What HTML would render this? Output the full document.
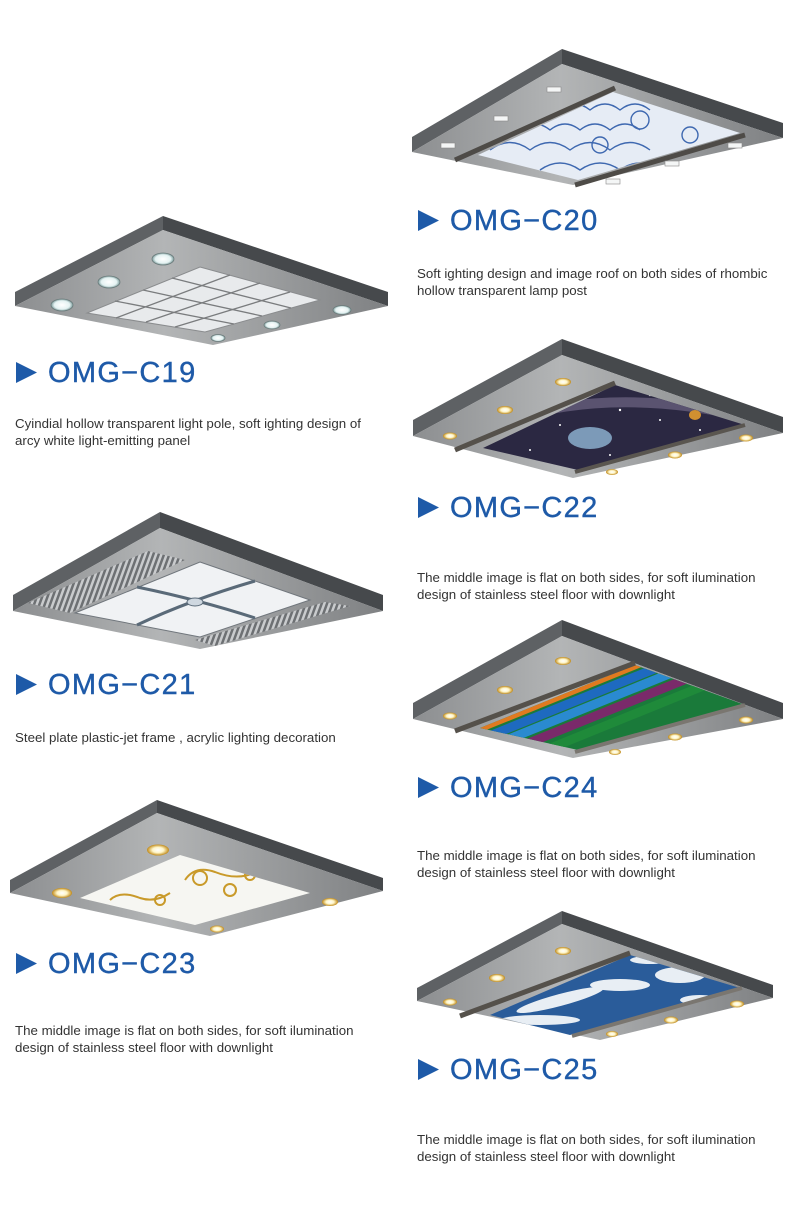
<!DOCTYPE html>
<html><head><meta charset="utf-8"><style>
html,body{margin:0;padding:0;background:#fff;}
body{width:800px;height:1209px;position:relative;overflow:hidden;font-family:"Liberation Sans",Arial,sans-serif;}
.t{position:absolute;font-size:29px;line-height:29px;color:#1e5aa8;letter-spacing:1.3px;white-space:nowrap;-webkit-text-stroke:0.4px #1e5aa8;}
.d{position:absolute;font-size:13.3px;line-height:17px;color:#333;white-space:nowrap;}
svg{position:absolute;left:0;top:0;}
</style></head><body>
<svg width="800" height="1209" viewBox="0 0 800 1209">
<defs>
<linearGradient id="fg" x1="0" y1="0" x2="1" y2="0">
<stop offset="0" stop-color="#8c8e90"/><stop offset="0.4" stop-color="#b3b5b6"/><stop offset="1" stop-color="#7f8183"/>
</linearGradient>
<radialGradient id="gl"><stop offset="0" stop-color="#fff"/><stop offset="0.5" stop-color="#fff6c8"/><stop offset="1" stop-color="#c08a1a"/></radialGradient>
<radialGradient id="wl"><stop offset="0" stop-color="#fff"/><stop offset="0.7" stop-color="#e4f2f2"/><stop offset="1" stop-color="#7a9a9a"/></radialGradient>
<pattern id="gr" width="5" height="5" patternUnits="userSpaceOnUse" patternTransform="rotate(20)">
<rect width="5" height="5" fill="#6d7073"/><rect width="2.5" height="5" fill="#c9cbcd"/></pattern>
<clipPath id="c22"><polygon points="615,385 745,425 578,470 483,448"/></clipPath>
<clipPath id="c24"><polygon points="635,665 745,705 578,750 480,728"/></clipPath>
<clipPath id="c25"><polygon points="630,955 740,988 570,1035 490,1015"/></clipPath>
<clipPath id="c20"><polygon points="613,92 740,133 578,180 478,155"/></clipPath>
<clipPath id="c23"><polygon points="180,855 310,893 195,925 80,898"/></clipPath>
</defs>

<!-- C19 -->
<polygon points="163,216 15,292 15,306 163,230" fill="#5e6164"/>
<polygon points="163,216 388,292 388,306 163,230" fill="#46494c"/>
<polygon points="163,230 388,306 213,345 15,306" fill="url(#fg)"/>
<polygon points="200,267 320,300 205,332 87,313" fill="#e8eaec" stroke="#8a8c8e"/>
<g stroke="#7a7c7e" stroke-width="1.3" fill="none">
<line x1="230" y1="275" x2="116" y2="318"/><line x1="260" y1="283" x2="146" y2="322"/><line x1="290" y1="292" x2="175" y2="327"/>
<line x1="172" y1="278" x2="291" y2="308"/><line x1="143" y1="290" x2="262" y2="316"/><line x1="115" y1="301" x2="234" y2="324"/>
</g>
<g fill="url(#wl)" stroke="#6b7b7b" stroke-width="0.8">
<ellipse cx="163" cy="259" rx="11" ry="6"/><ellipse cx="109" cy="282" rx="11" ry="6"/><ellipse cx="62" cy="305" rx="11" ry="6"/>
<ellipse cx="342" cy="310" rx="9" ry="4.5"/><ellipse cx="272" cy="325" rx="8" ry="4"/><ellipse cx="218" cy="338" rx="7" ry="3.5"/>
</g>

<!-- C20 -->
<polygon points="562,49 412,137 412,152 562,64" fill="#5e6164"/>
<polygon points="562,49 783,123 783,138 562,64" fill="#46494c"/>
<polygon points="562,64 783,138 573,185 412,152" fill="url(#fg)"/>
<polygon points="613,92 740,133 578,180 478,155" fill="#e6ecf5"/>
<g clip-path="url(#c20)" fill="none" stroke="#3e68b0" stroke-width="1.4">
<path d="M490 150 q20 -15 40 0 q20 -15 40 0 q20 -15 40 0 q20 -15 40 0"/>
<path d="M520 130 q15 -12 30 0 q15 -12 30 0 q15 -12 30 0 q15 -12 30 0"/>
<path d="M560 110 q15 -12 30 0 q15 -12 30 0 q15 -12 30 0"/>
<path d="M540 170 q20 -14 40 0 q20 -14 40 0 q20 -14 40 0"/>
<circle cx="640" cy="120" r="9"/><circle cx="600" cy="145" r="8"/><circle cx="690" cy="135" r="8"/>
</g>
<line x1="455" y1="160" x2="615" y2="88" stroke="#4e4b47" stroke-width="5"/>
<line x1="575" y1="185" x2="745" y2="135" stroke="#4e4b47" stroke-width="5"/>
<g fill="#f4f6f6" stroke="#888" stroke-width="0.6">
<rect x="547" y="87" width="14" height="5"/><rect x="494" y="116" width="14" height="5"/><rect x="441" y="143" width="14" height="5"/>
<rect x="728" y="143" width="14" height="5"/><rect x="665" y="161" width="14" height="5"/><rect x="606" y="179" width="14" height="5"/>
</g>

<!-- C21 -->
<polygon points="160,512 13,595 13,611 160,528" fill="#5e6164"/>
<polygon points="160,512 383,595 383,611 160,528" fill="#46494c"/>
<polygon points="160,528 383,611 200,649 13,611" fill="url(#fg)"/>
<polygon points="28,603 148,551 185,560 70,613" fill="url(#gr)"/>
<polygon points="195,640 325,602 350,606 215,646" fill="url(#gr)"/>
<polygon points="200,562 310,600 200,637 75,613" fill="#f0f2f4" stroke="#70767c"/>
<path d="M255 581 Q190 600 137 625 M137 587 Q200 600 255 618" stroke="#5a6a78" stroke-width="3" fill="none"/>
<ellipse cx="195" cy="602" rx="8" ry="4" fill="#cfd8e0" stroke="#5a6a78"/>

<!-- C22 -->
<polygon points="562,339 413,420 413,436 562,355" fill="#5e6164"/>
<polygon points="562,339 783,417 783,433 562,355" fill="#46494c"/>
<polygon points="562,355 783,433 573,478 413,436" fill="url(#fg)"/>
<polygon points="615,385 745,425 578,470 483,448" fill="#2b2842"/>
<g clip-path="url(#c22)">
<path d="M480 430 Q600 380 760 420" stroke="#5a5370" stroke-width="10" fill="none"/>
<ellipse cx="590" cy="438" rx="22" ry="11" fill="#7c9ab8"/>
<ellipse cx="695" cy="415" rx="6" ry="5" fill="#d09030"/>
<g fill="#fff"><circle cx="620" cy="410" r="1.2"/><circle cx="660" cy="420" r="1"/><circle cx="560" cy="425" r="1"/><circle cx="650" cy="395" r="1.2"/><circle cx="700" cy="430" r="1"/><circle cx="530" cy="450" r="1"/><circle cx="610" cy="455" r="1"/></g>
</g>
<line x1="455" y1="450" x2="615" y2="383" stroke="#55514b" stroke-width="5"/>
<line x1="575" y1="472" x2="745" y2="425" stroke="#5a5650" stroke-width="4"/>
<g fill="url(#gl)">
<ellipse cx="563" cy="382" rx="8" ry="4"/><ellipse cx="505" cy="410" rx="8" ry="4"/><ellipse cx="450" cy="436" rx="7" ry="3.5"/>
<ellipse cx="746" cy="438" rx="7" ry="3.5"/><ellipse cx="675" cy="455" rx="7" ry="3.5"/><ellipse cx="612" cy="472" rx="6" ry="3"/>
</g>

<!-- C23 -->
<polygon points="157,800 10,880 10,893 157,813" fill="#5e6164"/>
<polygon points="157,800 383,878 383,891 157,813" fill="#46494c"/>
<polygon points="157,813 383,891 210,936 10,893" fill="url(#fg)"/>
<polygon points="180,855 310,893 195,925 80,898" fill="#f6f6f2"/>
<g clip-path="url(#c23)" fill="none" stroke="#c99a2a" stroke-width="2">
<path d="M185 880 q10 -15 30 -8 q25 10 45 -2 q15 -8 10 10"/>
<path d="M110 900 q10 -10 30 -2 q15 5 30 -5"/>
<circle cx="200" cy="878" r="7"/><circle cx="230" cy="890" r="6"/><circle cx="160" cy="900" r="5"/><circle cx="250" cy="875" r="5"/>
</g>
<g fill="url(#gl)">
<ellipse cx="158" cy="850" rx="11" ry="5.5"/><ellipse cx="62" cy="893" rx="10" ry="5"/><ellipse cx="330" cy="902" rx="8" ry="4"/><ellipse cx="217" cy="929" rx="7" ry="3.5"/>
</g>

<!-- C24 -->
<polygon points="562,620 413,703 413,719 562,636" fill="#5e6164"/>
<polygon points="562,620 783,703 783,719 562,636" fill="#46494c"/>
<polygon points="562,636 783,719 573,758 413,719" fill="url(#fg)"/>
<polygon points="635,665 745,705 578,750 480,728" fill="#1a7a3a"/>
<g clip-path="url(#c24)" stroke-width="9" fill="none">
<line x1="420" y1="730" x2="760" y2="592" stroke="#2c9a40"/>
<line x1="425" y1="740" x2="765" y2="602" stroke="#e8d020"/>
<line x1="430" y1="748" x2="770" y2="610" stroke="#e07a20"/>
<line x1="435" y1="758" x2="775" y2="620" stroke="#1e6ac0"/>
<line x1="440" y1="767" x2="780" y2="629" stroke="#2a8ad0"/>
<line x1="445" y1="777" x2="785" y2="639" stroke="#7a2a6a"/>
<line x1="452" y1="788" x2="792" y2="650" stroke="#1f8a3a"/>
</g>
<line x1="455" y1="731" x2="635" y2="663" stroke="#55514b" stroke-width="5"/>
<line x1="575" y1="752" x2="745" y2="705" stroke="#7a7670" stroke-width="4"/>
<g fill="url(#gl)">
<ellipse cx="563" cy="661" rx="8" ry="4"/><ellipse cx="505" cy="690" rx="8" ry="4"/><ellipse cx="450" cy="716" rx="7" ry="3.5"/>
<ellipse cx="746" cy="720" rx="7" ry="3.5"/><ellipse cx="675" cy="737" rx="7" ry="3.5"/><ellipse cx="615" cy="752" rx="6" ry="3"/>
</g>

<!-- C25 -->
<polygon points="562,911 417,988 417,1001 562,924" fill="#5e6164"/>
<polygon points="562,911 773,985 773,998 562,924" fill="#46494c"/>
<polygon points="562,924 773,998 600,1040 417,1001" fill="url(#fg)"/>
<polygon points="630,955 740,988 570,1035 490,1015" fill="#2a5c9a"/>
<g clip-path="url(#c25)" fill="#e8eef4">
<ellipse cx="560" cy="1000" rx="45" ry="6" transform="rotate(-15 560 1000)"/>
<ellipse cx="620" cy="985" rx="30" ry="6"/><ellipse cx="680" cy="975" rx="25" ry="8"/>
<ellipse cx="540" cy="1020" rx="40" ry="5"/><ellipse cx="700" cy="1000" rx="20" ry="5"/><ellipse cx="650" cy="960" rx="20" ry="4"/>
</g>
<line x1="460" y1="1016" x2="630" y2="953" stroke="#55514b" stroke-width="5"/>
<line x1="572" y1="1036" x2="742" y2="988" stroke="#7a7670" stroke-width="4"/>
<g fill="url(#gl)">
<ellipse cx="563" cy="951" rx="8" ry="4"/><ellipse cx="497" cy="978" rx="8" ry="4"/><ellipse cx="450" cy="1002" rx="7" ry="3.5"/>
<ellipse cx="737" cy="1004" rx="7" ry="3.5"/><ellipse cx="671" cy="1020" rx="7" ry="3.5"/><ellipse cx="612" cy="1034" rx="6" ry="3"/>
</g>

<!-- arrows -->
<g fill="#1e5aa8">
<polygon points="16,362 37,372.5 16,383"/>
<polygon points="418,210 439,220.5 418,231"/>
<polygon points="16,674 37,684.5 16,695"/>
<polygon points="418,497 439,507.5 418,518"/>
<polygon points="16,953 37,963.5 16,974"/>
<polygon points="418,777 439,787.5 418,798"/>
<polygon points="418,1059 439,1069.5 418,1080"/>
</g>
</svg>

<div class="t" style="left:48px;top:359px">OMG−C19</div>
<div class="t" style="left:450px;top:207px">OMG−C20</div>
<div class="t" style="left:48px;top:671px">OMG−C21</div>
<div class="t" style="left:450px;top:494px">OMG−C22</div>
<div class="t" style="left:48px;top:950px">OMG−C23</div>
<div class="t" style="left:450px;top:774px">OMG−C24</div>
<div class="t" style="left:450px;top:1056px">OMG−C25</div>

<div class="d" style="left:15px;top:415px">Cyindial hollow transparent light pole, soft ighting design of<br>arcy white light-emitting panel</div>
<div class="d" style="left:417px;top:265px">Soft ighting design and image roof on both sides of rhombic<br>hollow transparent lamp post</div>
<div class="d" style="left:15px;top:729px">Steel plate plastic-jet frame , acrylic lighting decoration</div>
<div class="d" style="left:417px;top:569px">The middle image is flat on both sides, for soft ilumination<br>design of stainless steel floor with downlight</div>
<div class="d" style="left:15px;top:1022px">The middle image is flat on both sides, for soft ilumination<br>design of stainless steel floor with downlight</div>
<div class="d" style="left:417px;top:847px">The middle image is flat on both sides, for soft ilumination<br>design of stainless steel floor with downlight</div>
<div class="d" style="left:417px;top:1131px">The middle image is flat on both sides, for soft ilumination<br>design of stainless steel floor with downlight</div>
</body></html>
